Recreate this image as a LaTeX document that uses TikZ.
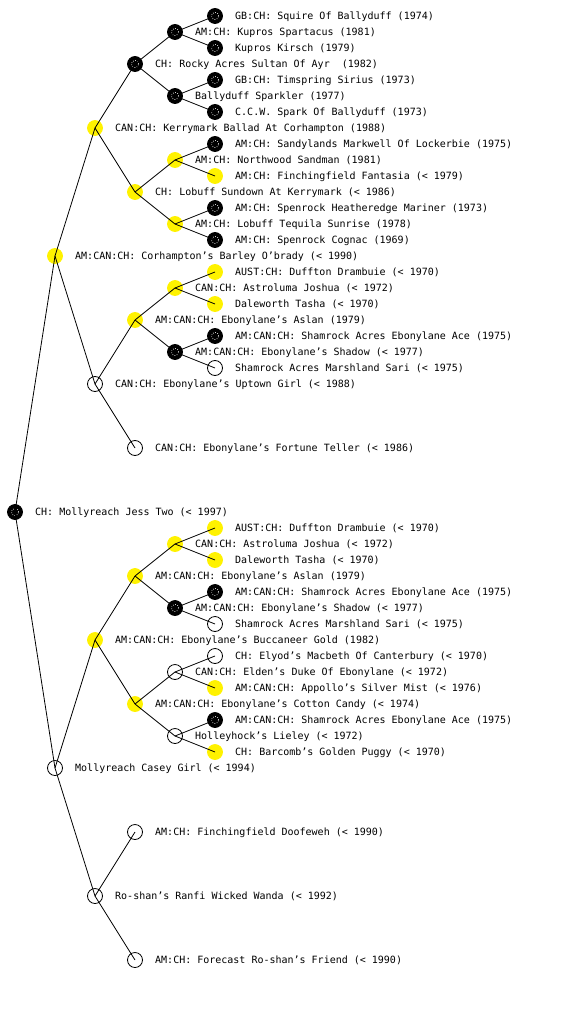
\documentclass[tikz,border=0pt]{standalone}
\usepackage{fontspec}
\setmonofont{DejaVu Sans Mono}

\begin{document}
\begin{tikzpicture}[x=1pt,y=-1pt,
  pup/.style={circle,draw,line width=0.8pt,minimum size=15pt,inner sep=0pt,outer sep=0pt},
  blk/.style={pup,fill=black,path picture={\draw[white,line width=0.7pt,dash pattern=on 0.7pt off 1.6pt] (path picture bounding box.center) circle (3.6pt);}},
  ylw/.style={pup,draw=yellow,fill=yellow},
  opn/.style={pup,fill=white},
  tag/.style={font=\ttfamily\fontsize{10}{12}\selectfont,inner sep=0pt,text height=7.3pt,text depth=0pt,xshift=12.5pt},
  every label/.style={tag}]
\useasboundingbox (0,0) rectangle (560,1024);
% dog
\node[blk,label={0:{CH: Mollyreach Jess Two (< 1997)}}] (r) at (15,512) {};
% parents
\node[ylw,label={0:{AM:CAN:CH: Corhampton’s Barley O’brady (< 1990)}}] (s) at (55,256) {};
\node[opn,label={0:{Mollyreach Casey Girl (< 1994)}}] (d) at (55,768) {};
% grandparents
\node[ylw,label={0:{CAN:CH: Kerrymark Ballad At Corhampton (1988)}}] (ss) at (95,128) {};
\node[opn,label={0:{CAN:CH: Ebonylane’s Uptown Girl (< 1988)}}] (sd) at (95,384) {};
\node[ylw,label={0:{AM:CAN:CH: Ebonylane’s Buccaneer Gold (1982)}}] (ds) at (95,640) {};
\node[opn,label={0:{Ro-shan’s Ranfi Wicked Wanda (< 1992)}}] (dd) at (95,896) {};
% generation 3
\node[blk,label={0:{CH: Rocky Acres Sultan Of Ayr~~(1982)}}] (sss) at (135,64) {};
\node[ylw,label={0:{CH: Lobuff Sundown At Kerrymark (< 1986)}}] (ssd) at (135,192) {};
\node[ylw,label={0:{AM:CAN:CH: Ebonylane’s Aslan (1979)}}] (sds) at (135,320) {};
\node[opn,label={0:{CAN:CH: Ebonylane’s Fortune Teller (< 1986)}}] (sdd) at (135,448) {};
\node[ylw,label={0:{AM:CAN:CH: Ebonylane’s Aslan (1979)}}] (dss) at (135,576) {};
\node[ylw,label={0:{AM:CAN:CH: Ebonylane’s Cotton Candy (< 1974)}}] (dsd) at (135,704) {};
\node[opn,label={0:{AM:CH: Finchingfield Doofeweh (< 1990)}}] (dds) at (135,832) {};
\node[opn,label={0:{AM:CH: Forecast Ro-shan’s Friend (< 1990)}}] (ddd) at (135,960) {};
% generation 4
\node[blk,label={0:{AM:CH: Kupros Spartacus (1981)}}] (ssss) at (175,32) {};
\node[blk,label={0:{Ballyduff Sparkler (1977)}}] (sssd) at (175,96) {};
\node[ylw,label={0:{AM:CH: Northwood Sandman (1981)}}] (ssds) at (175,160) {};
\node[ylw,label={0:{AM:CH: Lobuff Tequila Sunrise (1978)}}] (ssdd) at (175,224) {};
\node[ylw,label={0:{CAN:CH: Astroluma Joshua (< 1972)}}] (sdss) at (175,288) {};
\node[blk,label={0:{AM:CAN:CH: Ebonylane’s Shadow (< 1977)}}] (sdsd) at (175,352) {};
\node[ylw,label={0:{CAN:CH: Astroluma Joshua (< 1972)}}] (dsss) at (175,544) {};
\node[blk,label={0:{AM:CAN:CH: Ebonylane’s Shadow (< 1977)}}] (dssd) at (175,608) {};
\node[opn,label={0:{CAN:CH: Elden’s Duke Of Ebonylane (< 1972)}}] (dsds) at (175,672) {};
\node[opn,label={0:{Holleyhock’s Lieley (< 1972)}}] (dsdd) at (175,736) {};
% generation 5
\node[blk,label={0:{GB:CH: Squire Of Ballyduff (1974)}}] (sssss) at (215,16) {};
\node[blk,label={0:{Kupros Kirsch (1979)}}] (ssssd) at (215,48) {};
\node[blk,label={0:{GB:CH: Timspring Sirius (1973)}}] (sssds) at (215,80) {};
\node[blk,label={0:{C.C.W. Spark Of Ballyduff (1973)}}] (sssdd) at (215,112) {};
\node[blk,label={0:{AM:CH: Sandylands Markwell Of Lockerbie (1975)}}] (ssdss) at (215,144) {};
\node[ylw,label={0:{AM:CH: Finchingfield Fantasia (< 1979)}}] (ssdsd) at (215,176) {};
\node[blk,label={0:{AM:CH: Spenrock Heatheredge Mariner (1973)}}] (ssdds) at (215,208) {};
\node[blk,label={0:{AM:CH: Spenrock Cognac (1969)}}] (ssddd) at (215,240) {};
\node[ylw,label={0:{AUST:CH: Duffton Drambuie (< 1970)}}] (sdsss) at (215,272) {};
\node[ylw,label={0:{Daleworth Tasha (< 1970)}}] (sdssd) at (215,304) {};
\node[blk,label={0:{AM:CAN:CH: Shamrock Acres Ebonylane Ace (1975)}}] (sdsds) at (215,336) {};
\node[opn,label={0:{Shamrock Acres Marshland Sari (< 1975)}}] (sdsdd) at (215,368) {};
\node[ylw,label={0:{AUST:CH: Duffton Drambuie (< 1970)}}] (dssss) at (215,528) {};
\node[ylw,label={0:{Daleworth Tasha (< 1970)}}] (dsssd) at (215,560) {};
\node[blk,label={0:{AM:CAN:CH: Shamrock Acres Ebonylane Ace (1975)}}] (dssds) at (215,592) {};
\node[opn,label={0:{Shamrock Acres Marshland Sari (< 1975)}}] (dssdd) at (215,624) {};
\node[opn,label={0:{CH: Elyod’s Macbeth Of Canterbury (< 1970)}}] (dsdss) at (215,656) {};
\node[ylw,label={0:{AM:CAN:CH: Appollo’s Silver Mist (< 1976)}}] (dsdsd) at (215,688) {};
\node[blk,label={0:{AM:CAN:CH: Shamrock Acres Ebonylane Ace (1975)}}] (dsdds) at (215,720) {};
\node[ylw,label={0:{CH: Barcomb’s Golden Puggy (< 1970)}}] (dsddd) at (215,752) {};
% lines, child to parent, centre to centre
\foreach \a/\b in {r/s,r/d,s/ss,s/sd,d/ds,d/dd,
  ss/sss,ss/ssd,sd/sds,sd/sdd,ds/dss,ds/dsd,dd/dds,dd/ddd,
  sss/ssss,sss/sssd,ssd/ssds,ssd/ssdd,sds/sdss,sds/sdsd,dss/dsss,dss/dssd,dsd/dsds,dsd/dsdd,
  ssss/sssss,ssss/ssssd,sssd/sssds,sssd/sssdd,ssds/ssdss,ssds/ssdsd,ssdd/ssdds,ssdd/ssddd,
  sdss/sdsss,sdss/sdssd,sdsd/sdsds,sdsd/sdsdd,dsss/dssss,dsss/dsssd,dssd/dssds,dssd/dssdd,
  dsds/dsdss,dsds/dsdsd,dsdd/dsdds,dsdd/dsddd}
  \draw[line width=0.8pt] (\a.center) -- (\b.center);
\end{tikzpicture}
\end{document}
